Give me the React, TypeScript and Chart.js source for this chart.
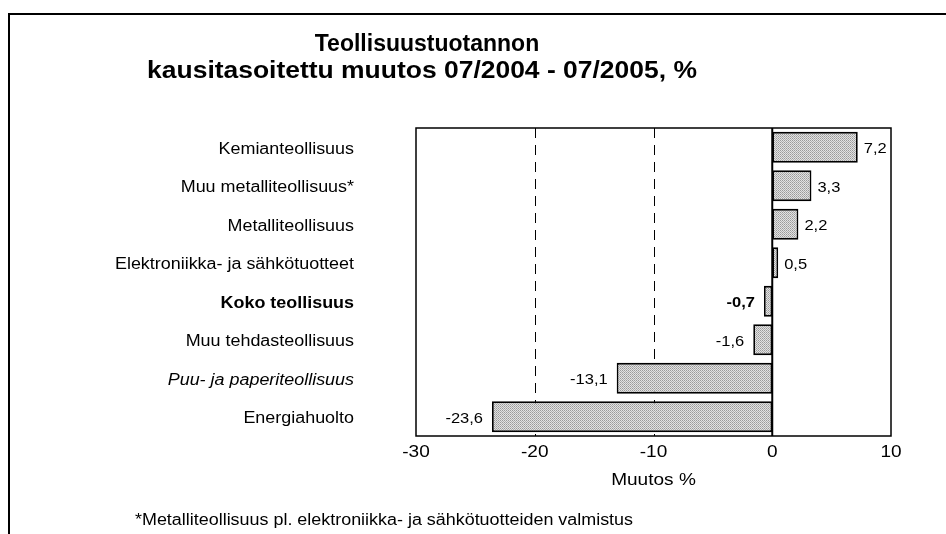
import React, { useEffect, useRef } from "react";
import { Chart, registerables } from "chart.js";

Chart.register(...registerables);

const titleLines = ["Teollisuustuotannon", "kausitasoitettu muutos 07/2004 - 07/2005, %"];
const categories = [
  "Kemianteollisuus",
  "Muu metalliteollisuus*",
  "Metalliteollisuus",
  "Elektroniikka- ja sähkötuotteet",
  "Koko teollisuus",
  "Muu tehdasteollisuus",
  "Puu- ja paperiteollisuus",
  "Energiahuolto",
];
const values = [7.2, 3.3, 2.2, 0.5, -0.7, -1.6, -13.1, -23.6];
const xMin = -30;
const xMax = 10;
const xStep = 10;
const xTitle = "Muutos %";
const footnote = "*Metalliteollisuus pl. elektroniikka- ja sähkötuotteiden valmistus";
const boldIndex = 4;
const italicIndex = 6;

const FONT = "'Liberation Sans', Arial, Helvetica, sans-serif";

function makePattern(): CanvasPattern | string {
  const c = document.createElement("canvas");
  c.width = 2;
  c.height = 2;
  const g = c.getContext("2d");
  if (!g) return "#c4c4c4";
  g.fillStyle = "#e2e2e2";
  g.fillRect(0, 0, 2, 2);
  g.fillStyle = "#9a9a9a";
  g.fillRect(0, 0, 1, 1);
  g.fillStyle = "#b0b0b0";
  g.fillRect(1, 1, 1, 1);
  const p = g.createPattern(c, "repeat");
  return p || "#c4c4c4";
}

const fmt = (v: number) => v.toFixed(1).replace(".", ",");

function drawText(
  ctx: CanvasRenderingContext2D,
  text: string,
  x: number,
  y: number,
  align: "left" | "right" | "center",
  font: string,
  sx: number
) {
  ctx.save();
  ctx.font = font;
  ctx.textAlign = "left";
  ctx.textBaseline = "middle";
  ctx.fillStyle = "#000";
  const w = ctx.measureText(text).width * sx;
  let left = x;
  if (align === "right") left = x - w;
  else if (align === "center") left = x - w / 2;
  ctx.translate(left, y);
  ctx.scale(sx, 1);
  ctx.fillText(text, 0, 0);
  ctx.restore();
}

export default function App() {
  const ref = useRef<HTMLCanvasElement | null>(null);

  useEffect(() => {
    document.body.style.margin = "0";
    const canvas = ref.current;
    if (!canvas) return;

    const decorPlugin = {
      id: "decor",
      beforeDatasetsDraw(chart: any) {
        const { ctx, chartArea, scales } = chart;
        const x = scales.x;
        ctx.save();
        ctx.strokeStyle = "#000";
        ctx.lineWidth = 1;
        ctx.setLineDash([10, 7]);
        for (let v = xMin + xStep; v < 0; v += xStep) {
          const px = Math.round(x.getPixelForValue(v)) + 0.5;
          ctx.beginPath();
          ctx.moveTo(px, chartArea.top);
          ctx.lineTo(px, chartArea.bottom);
          ctx.stroke();
        }
        ctx.restore();
      },
      afterDatasetsDraw(chart: any) {
        const { ctx, chartArea, scales } = chart;
        const x = scales.x;
        const y = scales.y;
        ctx.save();
        ctx.strokeStyle = "#000";
        ctx.lineWidth = 1.5;
        ctx.strokeRect(chartArea.left, chartArea.top, chartArea.right - chartArea.left, chartArea.bottom - chartArea.top);
        const z = x.getPixelForValue(0);
        ctx.lineWidth = 2;
        ctx.beginPath();
        ctx.moveTo(z, chartArea.top);
        ctx.lineTo(z, chartArea.bottom);
        ctx.stroke();
        ctx.restore();

        // value labels
        const meta = chart.getDatasetMeta(0);
        meta.data.forEach((bar: any, i: number) => {
          const v = values[i];
          const f = `${i === boldIndex ? "bold " : ""}15px ${FONT}`;
          if (v >= 0) drawText(ctx, fmt(v), bar.x + 6, bar.y + 2, "left", f, 1.1);
          else drawText(ctx, fmt(v), bar.x - 9, bar.y + 2, "right", f, 1.1);
        });

        // category labels
        categories.forEach((c, i) => {
          const py = y.getPixelForTick(i) + 2;
          const f = `${i === italicIndex ? "italic " : ""}${i === boldIndex ? "bold " : ""}16px ${FONT}`;
          drawText(ctx, c, chartArea.left - 62, py, "right", f, 1.12);
        });

        // x tick labels
        x.ticks.forEach((t: any) => {
          drawText(ctx, String(t.value), x.getPixelForValue(t.value), chartArea.bottom + 16, "center", `17px ${FONT}`, 1.12);
        });

        // x axis title
        drawText(ctx, xTitle, (chartArea.left + chartArea.right) / 2, 480, "center", `17px ${FONT}`, 1.12);

        // chart title
        drawText(ctx, titleLines[0], 427, 45, "center", `bold 23px ${FONT}`, 1.0);
        drawText(ctx, titleLines[1], 422, 72, "center", `bold 23px ${FONT}`, 1.15);

        // footnote
        drawText(ctx, footnote, 135, 521, "left", `16px ${FONT}`, 1.12);
      },
    };

    const chart = new Chart(canvas, {
      type: "bar",
      data: {
        labels: categories,
        datasets: [
          {
            data: values,
            backgroundColor: makePattern() as any,
            borderColor: "#000",
            borderWidth: 1.8,
            borderSkipped: false,
            barPercentage: 0.8,
            categoryPercentage: 1,
          },
        ],
      },
      options: {
        indexAxis: "y",
        animation: false,
        responsive: false,
        maintainAspectRatio: false,
        layout: { padding: { left: 0, top: 128, right: 55, bottom: 0 } },
        plugins: {
          legend: { display: false },
          title: { display: false },
          tooltip: { enabled: false },
        },
        scales: {
          x: {
            type: "linear",
            min: xMin,
            max: xMax,
            ticks: { stepSize: xStep, display: false },
            grid: { display: false, drawTicks: false },
            border: { display: false },
            afterFit: (scale: any) => {
              scale.height = 98;
            },
          },
          y: {
            type: "category",
            ticks: { display: false },
            grid: { display: false, drawTicks: false },
            border: { display: false },
            afterFit: (scale: any) => {
              scale.width = 416;
            },
          },
        },
      },
      plugins: [decorPlugin],
    });

    return () => chart.destroy();
  }, []);

  return (
    <div style={{ position: "relative", width: 946, height: 534, overflow: "hidden", background: "#fff" }}>
      <canvas ref={ref} width={946} height={534} style={{ display: "block" }} />
      <div
        style={{
          position: "absolute",
          left: 8,
          top: 13,
          width: 960,
          height: 600,
          borderTop: "2px solid #000",
          borderLeft: "2px solid #000",
          pointerEvents: "none",
        }}
      />
    </div>
  );
}
